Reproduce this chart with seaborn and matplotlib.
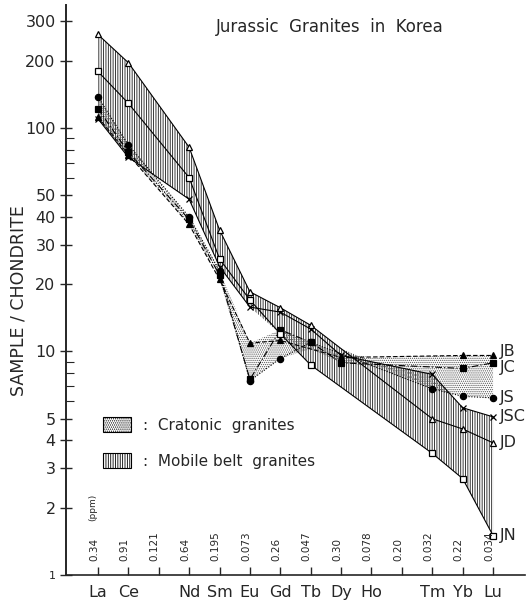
import numpy as np
import pandas as pd
import matplotlib
matplotlib.use("Agg")
import matplotlib.pyplot as plt
import seaborn as sns
from matplotlib.patches import Patch
from matplotlib.ticker import FixedLocator, NullFormatter, FixedFormatter

# ---------------- data ----------------
elements = ["La", "Ce", "Pr", "Nd", "Sm", "Eu", "Gd", "Tb", "Dy", "Ho", "Er", "Tm", "Yb", "Lu"]
tick_labels = ["La", "Ce", "", "Nd", "Sm", "Eu", "Gd", "Tb", "Dy", "Ho", "", "Tm", "Yb", "Lu"]
chondrite_ppm = ["0.34", "0.91", "0.121", "0.64", "0.195", "0.073", "0.26",
                 "0.047", "0.30", "0.078", "0.20", "0.032", "0.22", "0.034"]
nan = np.nan
# cratonic granites
JB = [112, 76, nan, 37, 21, 10.9, 11.2, nan, 9.4, nan, nan, nan, 9.6, 9.6]
JC = [122, 78, nan, 39, 22, 7.5, 12.5, 11.0, 8.9, nan, nan, nan, 8.4, 8.9]
JS = [138, 84, nan, 40, 23, 7.4, 9.3, 11.0, nan, nan, nan, 6.8, 6.3, 6.2]
# mobile belt granites
JSC = [110, 74, nan, 48, 24, 15.8, 15.0, 12.6, 9.6, nan, nan, 7.9, 5.6, 5.1]
JD = [262, 196, nan, 82, 35, 18.5, 15.7, 13.1, nan, nan, nan, 5.0, 4.5, 3.9]
JN = [179, 129, nan, 60, 26, 17.0, 12.0, 8.7, nan, nan, nan, 3.5, 2.7, 1.5]

y_ticks = [1, 2, 3, 4, 5, 10, 20, 30, 40, 50, 100, 200, 300]
y_minor = [6, 7, 8, 9, 60, 70, 80, 90]

# ---------------- style ----------------
sns.set_style("ticks")
plt.rcParams["font.family"] = ["DejaVu Sans"]
plt.rcParams["hatch.linewidth"] = 0.6

fig = plt.figure(figsize=(5.31, 6.01), dpi=100)
ax = fig.add_axes([66 / 531, 26 / 601, (525 - 66) / 531, (575 - 5) / 601])
ax.set_yscale("log")

xs = np.arange(1, len(elements) + 1)


def envelope(series_list):
    logs = []
    for s in series_list:
        arr = np.asarray(s, float)
        m = ~np.isnan(arr)
        logs.append(np.interp(xs, xs[m], np.log10(arr[m])))
    L = np.array(logs)
    return 10 ** L.min(0), 10 ** L.max(0)


lo_c, hi_c = envelope([JB, JC, JS])
lo_m, hi_m = envelope([JSC, JD, JN])
ax.fill_between(xs, lo_m, hi_m, facecolor="none", edgecolor="#1a1a1a",
                hatch="|||||||", linewidth=0, zorder=1)
ax.fill_between(xs, lo_c, hi_c, facecolor="none", edgecolor="#555555",
                hatch="........", linewidth=0, zorder=1)

series = [
    ("JB", JB, "^", "black", (0, (4, 2))),
    ("JC", JC, "s", "black", (0, (6, 2, 1, 2))),
    ("JS", JS, "o", "black", (0, (1, 1.5))),
    ("JSC", JSC, "x", "black", "-"),
    ("JD", JD, "^", "white", "-"),
    ("JN", JN, "s", "white", "-"),
]
label_dy = {"JB": 1.04, "JC": 0.95, "JS": 1.0, "JSC": 1.0, "JD": 1.0, "JN": 1.0}

for name, vals, mk, mfc, ls in series:
    df = pd.DataFrame({"pos": xs, "value": vals}).dropna()
    sns.lineplot(data=df, x="pos", y="value", ax=ax, color="black",
                 linewidth=0.8, linestyle=ls, marker=mk, markersize=4.5,
                 markerfacecolor=mfc, markeredgecolor="black",
                 markeredgewidth=0.9, zorder=3)
    last = df.iloc[-1]
    ax.text(last["pos"] + 0.22, last["value"] * label_dy[name], name,
            fontsize=11.5, va="center", ha="left", clip_on=False)

# chondrite normalising values
for x, t in zip(xs, chondrite_ppm):
    ax.text(x - 0.13, 1.16, t, rotation=90, fontsize=7.5, ha="center", va="bottom")
ax.text(1 - 0.17, 1.74, "(ppm)", rotation=90, fontsize=6.5, ha="center", va="bottom")

# axes
ax.set_xlim(-0.05, 15.05)
ax.set_ylim(1, 355)
ax.xaxis.set_major_locator(FixedLocator(xs))
ax.xaxis.set_major_formatter(FixedFormatter(tick_labels))
ax.yaxis.set_major_locator(FixedLocator(y_ticks))
ax.yaxis.set_major_formatter(FixedFormatter([str(v) for v in y_ticks]))
ax.yaxis.set_minor_locator(FixedLocator(y_minor))
ax.yaxis.set_minor_formatter(NullFormatter())
ax.tick_params(axis="x", direction="in", length=6, width=1, labelsize=11.5, pad=7)
ax.tick_params(axis="y", which="major", direction="inout", length=9, width=1,
               labelsize=11.5, pad=3)
ax.tick_params(axis="y", which="minor", direction="in", length=6, width=0.8)
ax.get_yticklabels()[0].set_fontsize(8)
ax.set_xlabel("")
ax.set_ylabel("")
for s in ["top", "right"]:
    ax.spines[s].set_visible(False)
ax.spines["left"].set_linewidth(1.4)
ax.spines["bottom"].set_linewidth(1.2)

ax.text(0.575, 0.961, "Jurassic  Granites  in  Korea", transform=ax.transAxes,
        fontsize=12, ha="center", va="center")
fig.text(19 / 531, 1 - 301 / 601, "SAMPLE / CHONDRITE", rotation=90,
         fontsize=12.5, ha="center", va="center")

handles = [Patch(facecolor="white", edgecolor="black", hatch="........", linewidth=0.8),
           Patch(facecolor="white", edgecolor="black", hatch="|||||||", linewidth=0.8)]
ax.legend(handles, [":  Cratonic  granites", ":  Mobile belt  granites"],
          loc="upper left", bbox_to_anchor=(103 / 531, 1 - 417 / 601),
          bbox_transform=fig.transFigure, frameon=False, fontsize=11,
          handlelength=1.8, handleheight=1.1, labelspacing=1.35,
          handletextpad=0.8, borderpad=0, borderaxespad=0)

fig.savefig("out.png", dpi=100)
